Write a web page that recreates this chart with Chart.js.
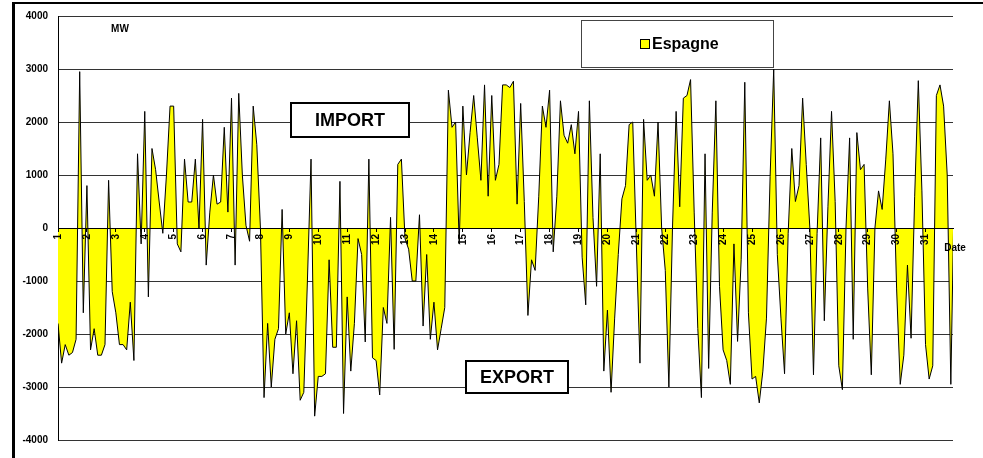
<!DOCTYPE html>
<html>
<head>
<meta charset="utf-8">
<script src="https://cdn.jsdelivr.net/npm/chart.js@4.4.1/dist/chart.umd.min.js"></script>
<style>
  html, body { margin: 0; padding: 0; background: #fff; }
  #wrap { position: relative; width: 983px; height: 458px; overflow: hidden; }
  #frame { position: absolute; left: 12px; top: 2px; right: 0; bottom: 0; border-left: 3px solid #000; border-top: 2px solid #000; pointer-events: none; }
  canvas { position: absolute; left: 0; top: 0; }
</style>
</head>
<body>
<div id="wrap">
  <canvas id="chart" width="983" height="458"></canvas>
  <div id="frame"></div>
</div>
<script>
// Espagne exchange balance, MW, one reading every 3 hours (day 1 00h onward)
const stepHours = 3;
const days = [1, 2, 3, 4, 5, 6, 7, 8, 9, 10, 11, 12, 13, 14, 15, 16,
  17, 18, 19, 20, 21, 22, 23, 24, 25, 26, 27, 28, 29, 30, 31];

const week1 = [
  -1800, -2550, -2200, -2400, -2350, -2100, 2950, -1600,
  800, -2300, -1900, -2400, -2400, -2200, 900, -1200,
  -1600, -2200, -2200, -2300, -1400, -2500, 1400, -300,
  2200, -1300, 1500, 1100, 490, -100, 1000, 2300,
  2300, -300, -450, 1300, 490, 490, 1300, 0,
  2050, -700, 300, 1000, 450, 490, 1900, 300,
  2450, -700, 2540, 1000, 50, -250, 2300, 1570
];
const week2 = [
  0, -3200, -1800, -3000, -2100, -1900, 350, -2000,
  -1600, -2750, -1750, -3250, -3100, -1000, 1300, -3550,
  -2800, -2800, -2750, -600, -2250, -2250, 880, -3500,
  -1300, -2700, -1800, -200, -500, -2150, 1300, -2450,
  -2500, -3150, -1500, -1800, 200, -2290, 1200, 1300,
  -200, -400, -1000, -1000, 250, -1850, -500, -2100,
  -1400, -2300, -1900, -1500, 2600, 1900, 2000, -300
];
const week3 = [
  2300, 1000, 1800, 2500, 1700, 900, 2700, 600,
  2500, 900, 1200, 2700, 2700, 2650, 2770, 450,
  2350, 500, -1650, -600, -800, 600, 2300, 1900,
  2600, -450, 600, 2400, 1750, 1600, 1950, 1400,
  2200, -550, -1450, 2400, 200, -1100, 1400, -2700,
  -1550, -3100, -1700, -500, 550, 800, 1950, 2000,
  -300, -2550, 2050, 900, 1000, 600, 2000, 0
];
const week4 = [
  -800, -3000, 0, 2200, 400, 2450, 2500, 2800,
  300, -1900, -3200, 1400, -2650, 300, 2400, -1100,
  -2300, -2500, -2950, -300, -2140, -600, 2750, -1600,
  -2850, -2800, -3300, -2700, -1700, 970, 3000, -500,
  -1700, -2750, -100, 1500, 500, 800, 2450, 1200,
  0, -2770, -100, 1700, -1750, 400, 2200, 500,
  -2600, -3050, 0, 1700, -2100, 1800, 1100, 1200
];
const week5 = [
  -1150, -2770, 0, 700, 350, 1300, 2400, 1400,
  -1150, -2950, -2400, -700, -2080, 600, 2780, 700,
  -2200, -2850, -2600, 2500, 2700, 2300, 1000, -2950,
  1000
];

const mw = [].concat(week1, week2, week3, week4, week5);
const points = mw.map((v, i) => ({ x: days[0] + i * stepHours / 24, y: v }));

const font = 'Liberation Sans, Arial, sans-serif';
Chart.defaults.font.family = font;
Chart.defaults.color = '#000';

const notes = {
  id: 'notes',
  afterDraw(chart) {
    const c = chart.ctx;
    c.save();
    c.fillStyle = '#000';
    c.textAlign = 'center';
    c.textBaseline = 'middle';
    c.font = 'bold 10px ' + font;
    c.fillText('MW', 120, 29);
    c.fillText('Date', 955, 248);

    // IMPORT / EXPORT boxes
    c.lineWidth = 2;
    c.strokeStyle = '#000';
    [['IMPORT', 291, 103, 118, 34], ['EXPORT', 466, 361, 102, 32]].forEach(b => {
      c.fillStyle = '#fff';
      c.fillRect(b[1], b[2], b[3], b[4]);
      c.strokeRect(b[1], b[2], b[3], b[4]);
      c.fillStyle = '#000';
      c.font = 'bold 18px ' + font;
      c.fillText(b[0], b[1] + b[3] / 2, b[2] + b[4] / 2 + 1);
    });

    // legend box
    const ds = chart.data.datasets[0];
    c.lineWidth = 1;
    c.strokeStyle = '#444';
    c.fillStyle = '#fff';
    c.fillRect(581.5, 20.5, 192, 47);
    c.strokeRect(581.5, 20.5, 192, 47);
    c.fillStyle = ds.backgroundColor;
    c.fillRect(640.5, 39.5, 9, 9);
    c.strokeStyle = '#000';
    c.strokeRect(640.5, 39.5, 9, 9);
    c.fillStyle = '#000';
    c.textAlign = 'left';
    c.font = 'bold 16px ' + font;
    c.fillText(ds.label, 652, 45);
    c.restore();
  }
};

new Chart(document.getElementById('chart'), {
  type: 'line',
  data: {
    datasets: [{
      label: 'Espagne',
      data: points,
      borderColor: '#000',
      borderWidth: 1,
      backgroundColor: '#ffff00',
      fill: 'origin',
      pointRadius: 0,
      tension: 0
    }]
  },
  options: {
    responsive: false,
    animation: false,
    devicePixelRatio: 1,
    layout: { padding: { left: 0, top: 13, right: 30, bottom: 18 } },
    plugins: {
      legend: { display: false },
      tooltip: { enabled: false }
    },
    scales: {
      x: {
        type: 'linear',
        position: { y: 0 },
        min: 1,
        max: 31.95,
        afterFit: s => { s.height = 0; },
        grid: { drawOnChartArea: false, drawTicks: true, tickLength: 3, color: '#000', z: 1 },
        border: { display: true, color: '#000', z: 1 },
        ticks: {
          z: 1,
          stepSize: 1,
          autoSkip: false,
          includeBounds: false,
          minRotation: 90,
          maxRotation: 90,
          padding: 3,
          color: '#000',
          font: { size: 10, weight: 'bold' },
          callback: v => days.includes(v) ? String(v) : ''
        }
      },
      y: {
        min: -4000,
        max: 4000,
        afterFit: s => { s.width = 58; },
        grid: { color: '#333', drawTicks: false },
        border: { display: true, color: '#000' },
        ticks: {
          stepSize: 1000,
          padding: 10,
          color: '#000',
          font: { size: 10, weight: 'bold' },
          callback: v => String(v)
        }
      }
    }
  },
  plugins: [notes]
});
</script>
</body>
</html>
